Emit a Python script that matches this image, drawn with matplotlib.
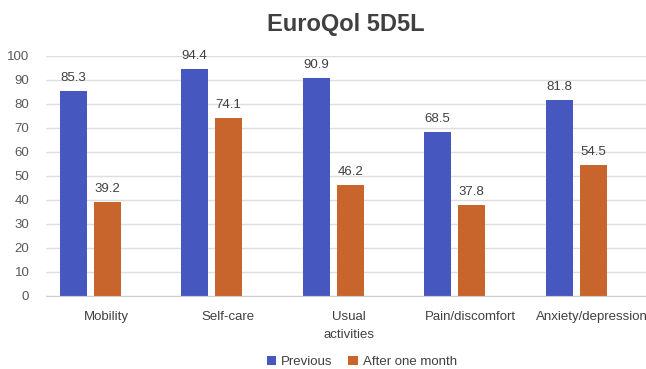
import matplotlib
matplotlib.use("Agg")
import matplotlib.pyplot as plt
import numpy as np

# data
categories = ["Mobility", "Self-care", "Usual\nactivities", "Pain/discomfort", "Anxiety/depression"]
previous = [85.3, 94.4, 90.9, 68.5, 81.8]
after_one_month = [39.2, 74.1, 46.2, 37.8, 54.5]

plt.rcParams["font.family"] = ["Liberation Sans", "DejaVu Sans"]

blue = "#4757c0"
orange = "#c8652c"
text_col = "#595959"

fig = plt.figure(figsize=(6.46, 3.69), dpi=100)
ax = fig.add_axes([46 / 646, 73 / 369, 1 - 46 / 646, 240 / 369])

x = np.arange(len(categories))
w = 0.225
b1 = ax.bar(x - 0.27, previous, w, color=blue, label="Previous", zorder=3)
b2 = ax.bar(x + 0.01, after_one_month, w, color=orange, label="After one month", zorder=3)

# value labels on top of bars
for bars in (b1, b2):
    for rect in bars:
        h = rect.get_height()
        ax.annotate(f"{h:.1f}", (rect.get_x() + rect.get_width() / 2, h),
                    xytext=(0, 5), textcoords="offset points",
                    ha="center", va="bottom", fontsize=9.5, color="#404040")

ax.set_ylim(0, 100)
ax.set_yticks(range(0, 101, 10))
ax.set_xlim(-0.494, 4.444)
ax.set_xticks(x)
ax.set_xticklabels(categories, fontsize=9.5, color="#404040", linespacing=1.6)
ax.tick_params(axis="y", length=0, pad=12, labelsize=9.5, labelcolor=text_col)
ax.tick_params(axis="x", length=0, pad=11)
ax.grid(axis="y", color="#dedede", linewidth=1, zorder=0)
for s in ["top", "right", "left"]:
    ax.spines[s].set_visible(False)
ax.spines["bottom"].set_color("#d0d0d0")
ax.spines["bottom"].set_zorder(4)

ax.set_title("EuroQol 5D5L", fontsize=17, fontweight="bold", color="#404040", pad=18)

fig.legend(loc="lower center", bbox_to_anchor=(0.56, -0.03), ncol=2, frameon=False,
           fontsize=9.5, handlelength=0.7, handleheight=0.7, handletextpad=0.4,
           columnspacing=1.2, labelcolor="#404040")

fig.savefig("out.png", dpi=100)
